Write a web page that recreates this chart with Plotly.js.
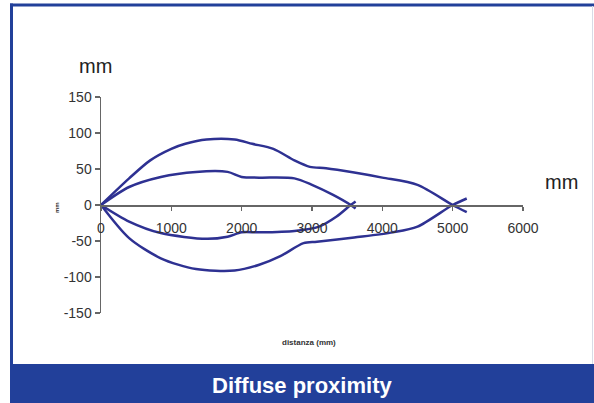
<!DOCTYPE html>
<html>
<head>
<meta charset="utf-8">
<script src="https://cdn.plot.ly/plotly-3.0.1.min.js"></script>
<style>html,body{margin:0;padding:0;background:#fff;}#chart{width:594px;height:403px;}</style>
</head>
<body>
<div id="chart"></div>
<script>
// Outer envelope (upper and lower branches)
const outerUpperX = [0, 400, 700, 1000, 1200, 1500, 1900, 2150, 2450, 2750, 2970, 3200, 3600, 4000, 4500, 5000, 5200];
const outerUpperY = [0, 37, 62, 78, 85, 91, 91, 85, 78, 62, 53, 51, 45, 38, 28, 0, -10];
const outerLowerX = [0, 400, 850, 1350, 1900, 2250, 2550, 2880, 3070, 3600, 4150, 4500, 5000, 5200];
const outerLowerY = [0, -46, -74, -89, -91, -83, -71, -53, -51, -45, -38, -30, 0, 9];
// Inner envelope
const innerUpperX = [0, 400, 850, 1350, 1800, 2000, 2250, 2750, 3000, 3300, 3550, 3620];
const innerUpperY = [0, 25, 39, 46, 46, 39, 38, 37, 28, 14, 0, -5];
const innerLowerX = [0, 400, 850, 1500, 1800, 2000, 2250, 2750, 3100, 3350, 3550, 3620];
const innerLowerY = [0, -23, -39, -47, -44, -38, -38, -36, -30, -16, 0, 5];

const xTicks = [0, 1000, 2000, 3000, 4000, 5000, 6000];
const xTickText = ['0', '1000', '2000', '3000', '4000', '5000', '6000'];
const yTicks = [-150, -100, -50, 0, 50, 100, 150];
const yTickText = ['-150', '-100', '-50', '0', '50', '100', '150'];

const lineColor = '#2e3192';
const blue = '#22409a';
const font = 'Liberation Sans, Arial, sans-serif';

function tr(x, y) {
  return {x: x, y: y, mode: 'lines', type: 'scatter', hoverinfo: 'skip',
    line: {color: lineColor, width: 2.5, shape: 'spline', smoothing: 0.8}};
}

const data = [tr(outerUpperX, outerUpperY), tr(outerLowerX, outerLowerY),
              tr(innerUpperX, innerUpperY), tr(innerLowerX, innerLowerY)];

// pixel -> paper helpers (plot area: left 101, width 422, top 97, height 216)
const L = 101, W = 422, T = 97, H = 216;
const px = v => (v - L) / W;
const py = v => (T + H - v) / H;

const layout = {
  width: 594, height: 403,
  margin: {l: L, r: 594 - L - W, t: T, b: 403 - T - H},
  paper_bgcolor: '#fff', plot_bgcolor: 'rgba(0,0,0,0)',
  showlegend: false,
  font: {family: font, color: '#333', size: 12},
  xaxis: {
    range: [0, 6000], anchor: 'free', position: 0.5,
    tickvals: xTicks, ticktext: xTickText,
    showline: true, linecolor: '#666', linewidth: 1.5,
    ticks: 'outside', ticklen: 4, tickcolor: '#666', tickwidth: 1.5,
    showgrid: false, zeroline: false,
    tickfont: {family: font, size: 14, color: '#333'},
    ticklabelstandoff: 6
  },
  yaxis: {
    range: [-150, 150],
    tickvals: yTicks, ticktext: yTickText,
    showline: true, linecolor: '#666', linewidth: 1.5,
    ticks: 'outside', ticklen: 5, tickcolor: '#666', tickwidth: 1.5,
    showgrid: false, zeroline: false,
    tickfont: {family: font, size: 14, color: '#333'}
  },
  shapes: [
    {type: 'rect', xref: 'paper', yref: 'paper', x0: px(10), x1: px(594), y0: py(364), y1: py(403),
     fillcolor: blue, line: {width: 0}},
    {type: 'rect', xref: 'paper', yref: 'paper', x0: px(10), x1: px(594), y0: py(6.5), y1: py(3.5),
     fillcolor: blue, line: {width: 0}},
    {type: 'rect', xref: 'paper', yref: 'paper', x0: px(10), x1: px(13), y0: py(364), y1: py(3.5),
     fillcolor: blue, line: {width: 0}},
    {type: 'line', xref: 'paper', yref: 'paper', x0: px(592.5), x1: px(592.5), y0: py(364), y1: py(6),
     line: {color: '#d8dbe6', width: 1}}
  ],
  annotations: [
    {text: 'mm', xref: 'paper', yref: 'paper', x: px(95), y: py(66), xanchor: 'center', yanchor: 'middle',
     showarrow: false, font: {family: font, size: 20, color: '#222'}},
    {text: 'mm', xref: 'paper', yref: 'paper', x: px(561), y: py(182), xanchor: 'center', yanchor: 'middle',
     showarrow: false, font: {family: font, size: 20, color: '#222'}},
    {text: '<b>mm</b>', xref: 'paper', yref: 'paper', x: px(57), y: py(208), xanchor: 'center', yanchor: 'middle',
     textangle: -90, showarrow: false, font: {family: font, size: 6, color: '#333'}},
    {text: '<b>distanza (mm)</b>', xref: 'paper', yref: 'paper', x: px(309), y: py(342), xanchor: 'center', yanchor: 'middle',
     showarrow: false, font: {family: font, size: 8, color: '#333'}},
    {text: '<b>Diffuse proximity</b>', xref: 'paper', yref: 'paper', x: px(302), y: py(385), xanchor: 'center', yanchor: 'middle',
     showarrow: false, font: {family: font, size: 22, color: '#fff'}}
  ]
};

Plotly.newPlot('chart', data, layout, {displayModeBar: false, staticPlot: true});
</script>
</body>
</html>
